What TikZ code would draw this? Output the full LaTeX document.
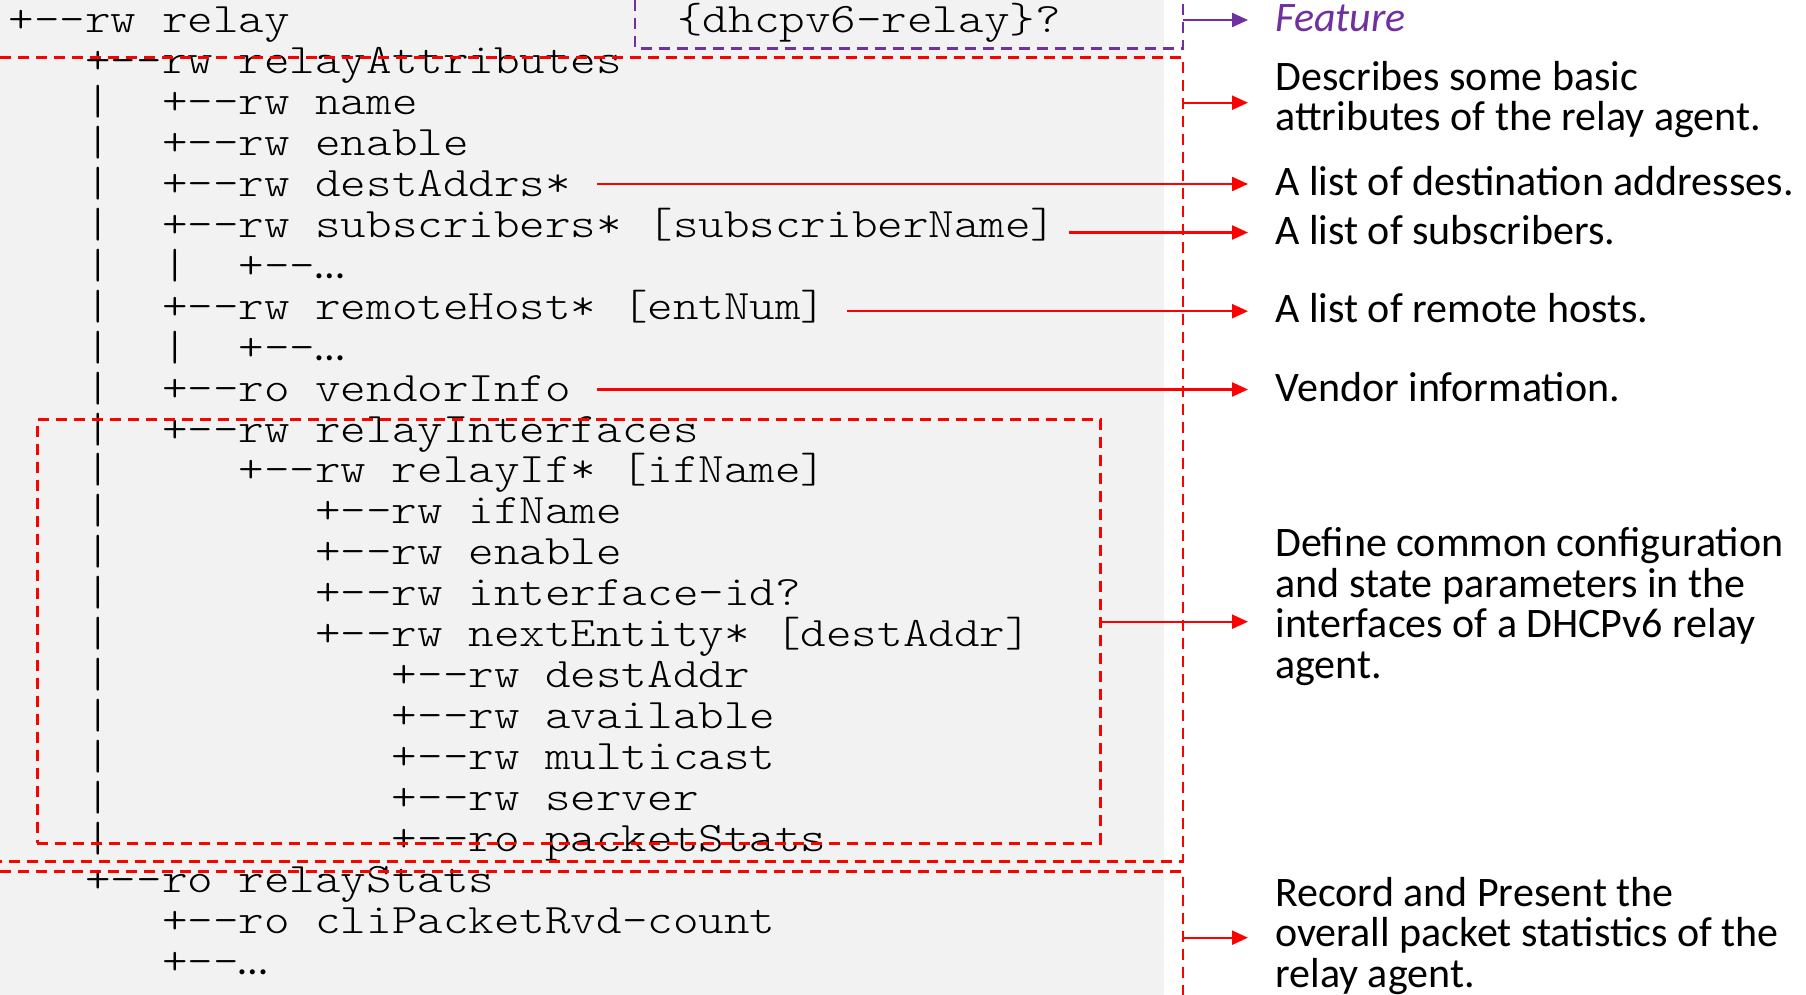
\documentclass[tikz,border=0pt]{standalone}
\usepackage{fontspec}
\usetikzlibrary{arrows.meta,calc}
\newfontfamily\codefont{lmmonolt10-regular.otf}[FakeStretch=1.159]
\newfontfamily\notefont{Carlito}
\definecolor{featpurple}{RGB}{112,48,160}
\definecolor{panelgray}{RGB}{242,242,242}
\newcommand\codesize{\fontsize{21}{21}\selectfont}
\newcommand\notesize{\fontsize{21}{20.25}\selectfont\lineskiplimit=-50pt\relax}
% tree branch marker; the kern keeps the two hyphens apart
\newcommand\tee{+-\kern0pt-}
% one line of the YANG tree: name, column, row, text
\newcommand\codeline[4]{\node[code] (#1) at ({8.3+#2*25.55},{32.5+#3*40.95}) {#4};}
\begin{document}
\begin{tikzpicture}[x=0.5pt,y=-0.5pt,
  code/.style={anchor=base west,inner sep=0pt,font=\codefont\codesize,text=black},
  note/.style={anchor=base west,inner sep=0pt,align=left,font=\notefont\notesize},
  dashline/.style={line width=1.4pt,dash pattern=on 5.5pt off 3.5pt},
  redarrow/.style={draw=red,line width=1.15pt,shorten >=13.5pt,-{Triangle[length=8pt,width=7pt]}},
  purplearrow/.style={redarrow,draw=featpurple}]
\useasboundingbox (0,0) rectangle (1806,995);
\fill[panelgray] (0,0) rectangle (1164,995);

% the module tree
\codeline{l0}{0}{0}{\tee rw relay}
\node[code] (iffeature) at (677,32.5) {\{dhcpv6-relay\}?};
\codeline{l1}{3}{1}{\tee rw relayAttributes}
\codeline{l2}{6}{2}{\tee rw name}
\codeline{l3}{6}{3}{\tee rw enable}
\codeline{l4}{6}{4}{\tee rw destAddrs*}
\codeline{l5}{6}{5}{\tee rw subscribers* [subscriberName]}
\codeline{l6}{9}{6}{\tee{\notefont …}}
\codeline{l7}{6}{7}{\tee rw remoteHost* [entNum]}
\codeline{l8}{9}{8}{\tee{\notefont …}}
\codeline{l9}{6}{9}{\tee ro vendorInfo}
\codeline{l10}{6}{10}{\tee rw relayInterfaces}
\codeline{l11}{9}{11}{\tee rw relayIf* [ifName]}
\codeline{l12}{12}{12}{\tee rw ifName}
\codeline{l13}{12}{13}{\tee rw enable}
\codeline{l14}{12}{14}{\tee rw interface-id?}
\codeline{l15}{12}{15}{\tee rw nextEntity* [destAddr]}
\codeline{l16}{15}{16}{\tee rw destAddr}
\codeline{l17}{15}{17}{\tee rw available}
\codeline{l18}{15}{18}{\tee rw multicast}
\codeline{l19}{15}{19}{\tee rw server}
\codeline{l20}{15}{20}{\tee ro packetStats}
\codeline{l21}{3}{21}{\tee ro relayStats}
\codeline{l22}{6}{22}{\tee ro cliPacketRvd-count}
\codeline{l23}{6}{23}{\tee{\notefont …}}
\foreach \r in {2,...,20} {\codeline{barA\r}{3}{\r}{|}}
\codeline{barB6}{6}{6}{|}
\codeline{barB8}{6}{8}{|}

% grouping frames
\coordinate (railTop) at (1183,0);
\coordinate (railBot) at (1183,995);
\draw[dashline,featpurple] (635,0) -- (635,48.3) -- (1183,48.3) -- (railTop);
\draw[dashline,red] (0,57.3) -- (1183,57.3) -- (1183,861.7) -- (0,861.7);
\draw[dashline,red] (0,871.7) -- (1183,871.7) -- (railBot);
\node[draw=red,dashline,anchor=north west,inner sep=0pt,
      minimum width=531.5pt,minimum height=211.85pt] (ifbox) at (36,418) {};

% explanations (multi-line ones are placed by their last baseline)
\node[note,text=featpurple,font=\notefont\notesize\itshape] (nFeat) at (1275,32) {Feature};
\node[note] (nBasic) at (1275,130.7) {Describes some basic\\attributes of the relay agent.};
\node[note] (nDest) at (1275,195.5) {A list of destination addresses.};
\node[note] (nSubs) at (1275,244) {A list of subscribers.};
\node[note] (nHosts) at (1275,322.7) {A list of remote hosts.};
\node[note] (nVendor) at (1275,401) {Vendor information.};
\node[note] (nIf) at (1275,678) {Define common configuration\\and state parameters in the\\interfaces of a DHCPv6 relay\\agent.};
\node[note] (nStats) at (1275,987) {Record and Present the\\overall packet statistics of the\\relay agent.};

% arrow heads, level with each explanation
\coordinate (hFeat) at ([yshift=6pt]nFeat.base west);
\coordinate (hBasic) at ([yshift=14pt]nBasic.base west);
\coordinate (hDest) at ([yshift=5.75pt]nDest.base west);
\coordinate (hSubs) at ([yshift=5.75pt]nSubs.base west);
\coordinate (hHosts) at ([yshift=5.75pt]nHosts.base west);
\coordinate (hVendor) at ([yshift=5.75pt]nVendor.base west);
\coordinate (hIf) at ([yshift=28.15pt]nIf.base west);
\coordinate (hStats) at ([yshift=24.65pt]nStats.base west);
% arrow tails after the tree entries
\coordinate (tDest) at ([xshift=13pt]l4.base east);
\coordinate (tSubs) at ([xshift=6pt]l5.base east);
\coordinate (tHosts) at ([xshift=10pt]l7.base east);
\coordinate (tVendor) at ([xshift=13pt]l9.base east);

\draw[purplearrow] (railTop |- hFeat) -- (hFeat);
\draw[redarrow] (railTop |- hBasic) -- (hBasic);
\draw[redarrow] (tDest |- hDest) -- (hDest);
\draw[redarrow] (tSubs |- hSubs) -- (hSubs);
\draw[redarrow] (tHosts |- hHosts) -- (hHosts);
\draw[redarrow] (tVendor |- hVendor) -- (hVendor);
\draw[redarrow] (ifbox.east |- hIf) -- (hIf);
\draw[redarrow] (railTop |- hStats) -- (hStats);
\end{tikzpicture}
\end{document}
